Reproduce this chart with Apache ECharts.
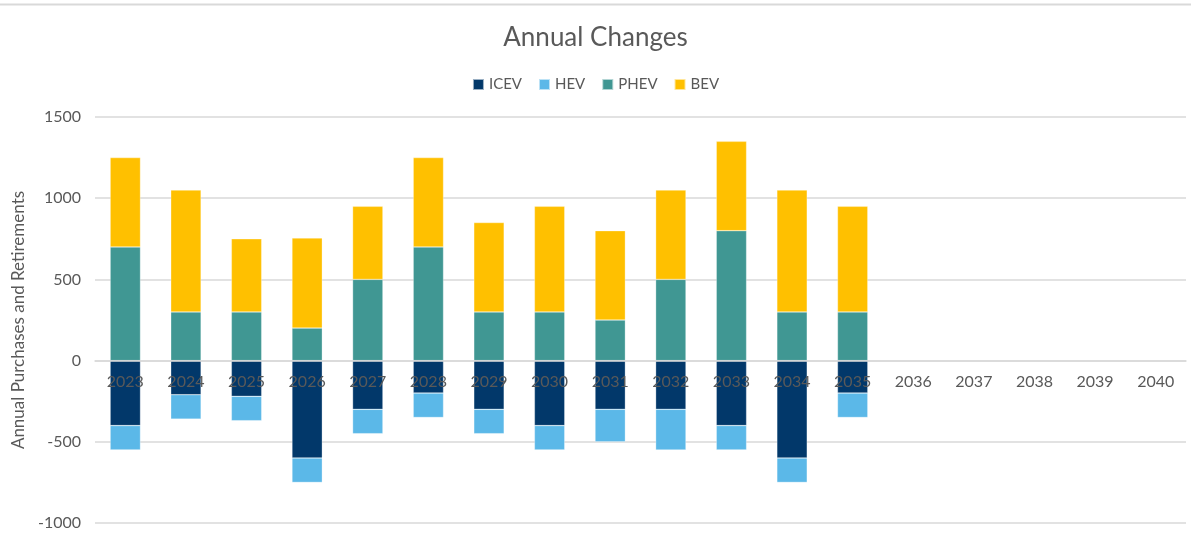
<!DOCTYPE html>
<html>
<head>
<meta charset="utf-8">
<script src="https://cdn.jsdelivr.net/npm/echarts@6/dist/echarts.min.js"></script>
<style>
  html, body { margin: 0; padding: 0; background: #fff; }
  #chart { width: 1191px; height: 541px; }
</style>
</head>
<body>
<div id="chart"></div>
<script>
// categories
const years = ['2023', '2024', '2025', '2026', '2027', '2028', '2029', '2030', '2031',
  '2032', '2033', '2034', '2035', '2036', '2037', '2038', '2039', '2040'];

// retirements (negative) and purchases (positive)
const icev = [-400, -210, -220, -600, -300, -200, -300, -400, -300, -300, -400, -600, -200, null, null, null, null, null];
const hev  = [-150, -150, -150, -150, -150, -150, -150, -150, -200, -250, -150, -150, -150, null, null, null, null, null];
const phev = [700, 300, 300, 200, 500, 700, 300, 300, 250, 500, 800, 300, 300, null, null, null, null, null];
const bev  = [550, 750, 450, 555, 450, 550, 550, 650, 550, 550, 550, 750, 650, null, null, null, null, null];

const yTicks = { min: -1000, max: 1500, interval: 500 };

const FONT = 'Lato';
const grey = '#595959';
const lineGrey = '#d9d9d9';

const gridTop = 117, gridBottom = 18, H = 541;
// the category axis sits on the zero line, so shift it up from the grid bottom
const plotH = H - gridTop - gridBottom;
const zeroShift = -plotH * (0 - yTicks.min) / (yTicks.max - yTicks.min);

const chart = echarts.init(document.getElementById('chart'));

function bar(name, data, color) {
  return {
    name: name,
    type: 'bar',
    stack: 'total',
    data: data,
    barWidth: '50%',
    itemStyle: { color: color, borderColor: 'rgba(255,255,255,0.6)', borderWidth: 0.5 }
  };
}

chart.setOption({
  textStyle: { fontFamily: FONT },
  title: {
    text: 'Annual Changes',
    left: 'center',
    top: 20,
    textStyle: { fontFamily: FONT, fontSize: 26, fontWeight: 'normal', color: grey }
  },
  legend: {
    top: 72,
    left: 'center',
    itemWidth: 11,
    itemHeight: 11,
    itemGap: 16,
    icon: 'rect',
    textStyle: { fontFamily: FONT, fontSize: 15, color: grey },
    data: ['ICEV', 'HEV', 'PHEV', 'BEV']
  },
  graphic: [{
    type: 'line',
    shape: { x1: 0, y1: 4.5, x2: 1191, y2: 4.5 },
    style: { stroke: lineGrey, lineWidth: 2 }
  }],
  grid: { left: 95, right: 5, top: gridTop, bottom: gridBottom, outerBoundsMode: 'none' },
  xAxis: [{
    type: 'category',
    data: years,
    z: 10,
    offset: zeroShift,
    axisLine: { onZero: false, lineStyle: { color: lineGrey, width: 1.5 } },
    axisTick: { length: 6, lineStyle: { color: lineGrey, width: 1.5 } },
    axisLabel: { fontFamily: FONT, fontSize: 16, color: grey, margin: 13, interval: 0 }
  }, {
    type: 'category',
    data: years,
    position: 'bottom',
    z: 10,
    offset: zeroShift,
    axisLine: { show: false, onZero: false },
    axisTick: { inside: true, length: 6, lineStyle: { color: lineGrey, width: 1.5 } },
    axisLabel: { show: false }
  }],
  yAxis: {
    type: 'value',
    min: yTicks.min,
    max: yTicks.max,
    interval: yTicks.interval,
    name: 'Annual Purchases and Retirements',
    nameLocation: 'middle',
    nameGap: 68,
    nameTextStyle: { fontFamily: FONT, fontSize: 17, color: grey },
    axisLine: { show: false },
    axisTick: { show: false },
    axisLabel: { fontFamily: FONT, fontSize: 16, color: grey, margin: 14, formatter: v => String(v) },
    splitLine: { lineStyle: { color: lineGrey, width: 1.5 } }
  },
  series: [
    bar('ICEV', icev, '#02386a'),
    bar('HEV', hev, '#5bb8e8'),
    bar('PHEV', phev, '#409793'),
    bar('BEV', bev, '#ffc000')
  ]
});
</script>
</body>
</html>
